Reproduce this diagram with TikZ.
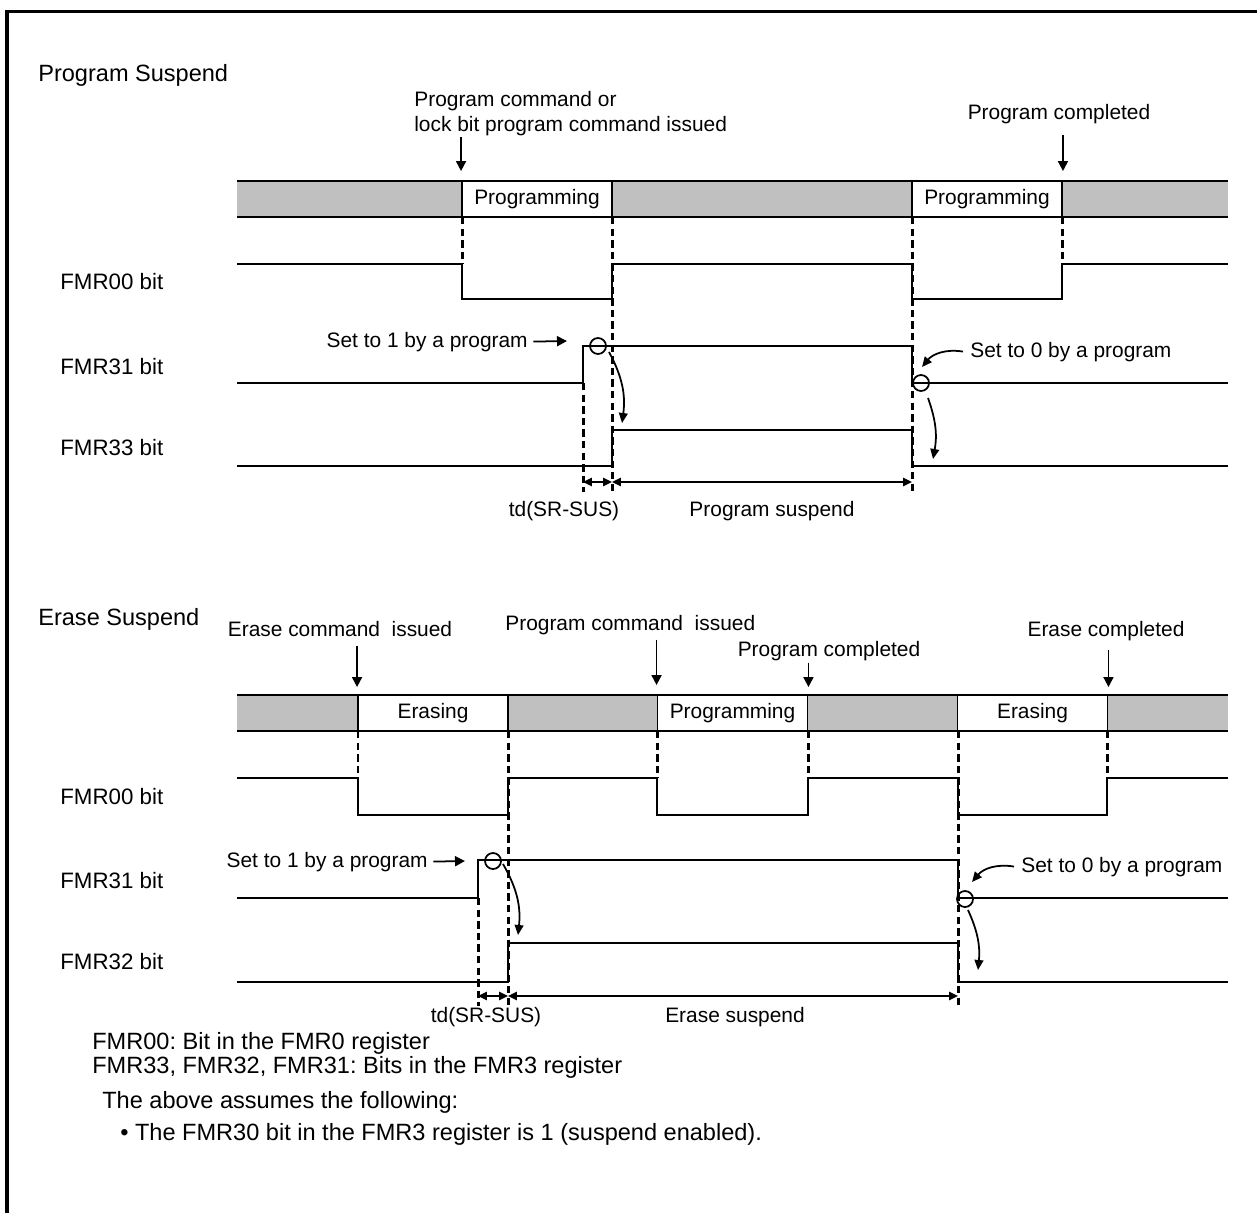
\documentclass[tikz,border=0pt]{standalone}
\usepackage{fontspec}
\setmainfont{Liberation Sans}
\usepackage{tikz}
\usetikzlibrary{arrows.meta, positioning, calc}
\definecolor{busygray}{RGB}{192,192,192}
\tikzset{
  lbl/.style={font=\fontsize{11.9}{14}\selectfont\frenchspacing, inner sep=0pt},
  bitname/.style={font=\fontsize{12.7}{15}\selectfont, inner sep=0pt},
  bigtxt/.style={font=\fontsize{13.4}{16}\selectfont\frenchspacing, inner sep=0pt},
  sig/.style={line width=1.1pt, color=black},
  guide/.style={line width=1.7pt, dash pattern=on 4.2pt off 2.4pt},
  cmdarrow/.style={-{Triangle[length=5.7pt,width=5.7pt]}, line width=1pt},
  dimarrow/.style={{Triangle[length=5pt,width=4.6pt]}-{Triangle[length=5pt,width=4.6pt]}, line width=1pt},
  bentarrow/.style={-{Triangle[length=5.7pt,width=5pt]}, line width=1pt},
  flagcirc/.style={circle, draw, line width=1pt, minimum size=0.32cm, inner sep=0pt},
  idle/.style={rectangle, draw, fill=white, line width=1.1pt, minimum width=3cm,
    minimum height=0.72cm, inner sep=0pt, font=\fontsize{11.9}{14}\selectfont}
}

\begin{document}
\begin{tikzpicture}[x=0.02cm, y=-0.02cm]
  \useasboundingbox (0,0) rectangle (1257,1213);
  % Frame
  \draw[line width=2.2pt] (7,1213) -- (7,11.5) -- (1257,11.5);

  %%%%% Program suspend %%%%%
  \node[bigtxt, anchor=base west] (titleP) at (38,82) {Program Suspend};
  % Status bar
  \fill[busygray] (237,181) rectangle (1228,217);
  \draw[sig] (237,181) -- (1228,181) (237,217) -- (1228,217);
  \node[idle] (pgmA) at (537,199) {Programming};
  \node[idle] (pgmB) at (987,199) {Programming};
  % Commands
  \node[lbl, anchor=base west] (cmdA1) at (414,107) {Program command or};
  \node[lbl, anchor=base west] (cmdA2) at (414,132) {lock bit program command issued};
  \draw[cmdarrow, shorten >=0.18cm] (cmdA2.south -| pgmA.north west) -- (pgmA.north west);
  \node[lbl, anchor=base] (doneA) at (1059,120) {Program completed};
  \draw[cmdarrow, shorten <=0.2cm, shorten >=0.18cm] (doneA.south -| pgmB.north east) -- (pgmB.north east);
  % Signal names
  \node[bitname, anchor=base west] (fmrA0) at (60,289) {FMR00 bit};
  \node[bitname, anchor=base west] (fmrA1) at (60,374) {FMR31 bit};
  \node[bitname, anchor=base west] (fmrA3) at (60,455) {FMR33 bit};
  % Waveforms
  \draw[sig] (237,264) -- (462,264) -- (462,299) -- (612,299) -- (612,264) -- (912,264)
    -- (912,299) -- (1062,299) -- (1062,264) -- (1228,264);
  \draw[sig] (237,383) -- (583,383) -- (583,346) -- (912,346) -- (912,383) -- (1228,383);
  \draw[sig] (237,466) -- (612,466) -- (612,430) -- (912,430) -- (912,466) -- (1228,466);
  % Timing guides
  \foreach \gx in {462,1062}
    \draw[guide] (\gx,217) -- (\gx,264);
  \draw[guide] (612,217) -- (612,492);
  \draw[guide] (912,217) -- (912,492);
  \draw[guide] (583,383) -- (583,492);
  % Flag writes
  \node[flagcirc] (setA) at (598,346) {};
  \node[flagcirc] (clrA) at (921,383) {};
  \node[lbl, anchor=base east] (set1A) at (528,347) {Set to 1 by a program};
  \draw[cmdarrow] ([xshift=3pt]set1A.east) -- (567,341);
  \node[lbl, anchor=base west] (set0A) at (970,357) {Set to 0 by a program};
  \draw[bentarrow] ([xshift=-4pt]set0A.west) to[bend right=30] (922,367);
  \draw[bentarrow] (609,352) to[bend left=18] (622,423);
  \draw[bentarrow] (928,398) to[bend left=15] (933,459);
  % Intervals
  \draw[dimarrow] (583,482) -- (612,482);
  \draw[dimarrow] (612,482) -- (912,482);
  \node[lbl, anchor=base] (tdA) at (564,516) {td(SR-SUS)};
  \node[lbl, anchor=base] (suspA) at (772,516) {Program suspend};

  %%%%% Erase suspend %%%%%
  \node[bigtxt, anchor=base west] (titleE) at (38,625) {Erase Suspend};
  % Status bar
  \fill[busygray] (237,695) rectangle (1228,731);
  \draw[sig] (237,695) -- (1228,695) (237,731) -- (1228,731);
  \node[idle] (ersA) at (433,713) {Erasing};
  \node[idle] (pgmC) at (732.5,713) {Programming};
  \node[idle] (ersB) at (1032.5,713) {Erasing};
  % Commands
  \node[lbl, anchor=base] (cmdE) at (340,636) {Erase command\ \ issued};
  \draw[cmdarrow, shorten <=0.18cm, shorten >=0.14cm] (cmdE.south -| ersA.north west) -- (ersA.north west);
  \node[lbl, anchor=base west] (cmdP) at (505,630) {Program command\ \ issued};
  \draw[cmdarrow, shorten <=0.1cm, shorten >=0.18cm] (cmdP.south -| pgmC.north west) -- (pgmC.north west);
  \node[lbl, anchor=base] (doneP) at (829,656) {Program completed};
  \draw[cmdarrow, shorten <=0.04cm, shorten >=0.14cm] (doneP.south -| pgmC.north east) -- (pgmC.north east);
  \node[lbl, anchor=base] (doneE) at (1106,636) {Erase completed};
  \draw[cmdarrow, shorten <=0.18cm, shorten >=0.14cm] (doneE.south -| ersB.north east) -- (ersB.north east);
  % Signal names
  \node[bitname, anchor=base west] (fmrB0) at (60,804) {FMR00 bit};
  \node[bitname, anchor=base west] (fmrB1) at (60,888) {FMR31 bit};
  \node[bitname, anchor=base west] (fmrB2) at (60,969) {FMR32 bit};
  % Waveforms
  \draw[sig] (237,778) -- (358,778) -- (358,815) -- (508,815) -- (508,778) -- (657,778)
    -- (657,815) -- (808,815) -- (808,778) -- (958,778) -- (958,815) -- (1107,815)
    -- (1107,778) -- (1228,778);
  \draw[sig] (237,898) -- (478,898) -- (478,860) -- (958,860) -- (958,898) -- (1228,898);
  \draw[sig] (237,982) -- (508,982) -- (508,943) -- (958,943) -- (958,982) -- (1228,982);
  % Timing guides
  \foreach \gx in {358,657,808,1107}
    \draw[guide] (\gx,731) -- (\gx,778);
  \draw[guide] (508,731) -- (508,1006);
  \draw[guide] (958,731) -- (958,1006);
  \draw[guide] (478,898) -- (478,1006);
  % Flag writes
  \node[flagcirc] (setB) at (493,861) {};
  \node[flagcirc] (clrB) at (965,899) {};
  \node[lbl, anchor=base east] (set1B) at (428,867) {Set to 1 by a program};
  \draw[cmdarrow] ([xshift=3pt]set1B.east) -- (465,861);
  \node[lbl, anchor=base west] (set0B) at (1021,872) {Set to 0 by a program};
  \draw[bentarrow] ([xshift=-4pt]set0B.west) to[bend right=30] (972,882);
  \draw[bentarrow] (503,864) to[bend left=18] (518,935);
  \draw[bentarrow] (968,910) to[bend left=15] (978,970);
  % Intervals
  \draw[dimarrow] (478,996) -- (508,996);
  \draw[dimarrow] (508,996) -- (958,996);
  \node[lbl, anchor=base] (tdB) at (486,1022) {td(SR-SUS)};
  \node[lbl, anchor=base] (suspB) at (735,1022) {Erase suspend};

  % Notes
  \node[bigtxt, anchor=base west] (noteA) at (92,1049) {FMR00: Bit in the FMR0 register};
  \node[bigtxt, anchor=base west] (noteB) at (92,1073) {FMR33, FMR32, FMR31: Bits in the FMR3 register};
  \node[bigtxt, anchor=base west] (noteC) at (102,1108) {The above assumes the following:};
  \node[bigtxt, anchor=base west] (noteD) at (120,1140) {• The FMR30 bit in the FMR3 register is 1 (suspend enabled).};
\end{tikzpicture}
\end{document}
